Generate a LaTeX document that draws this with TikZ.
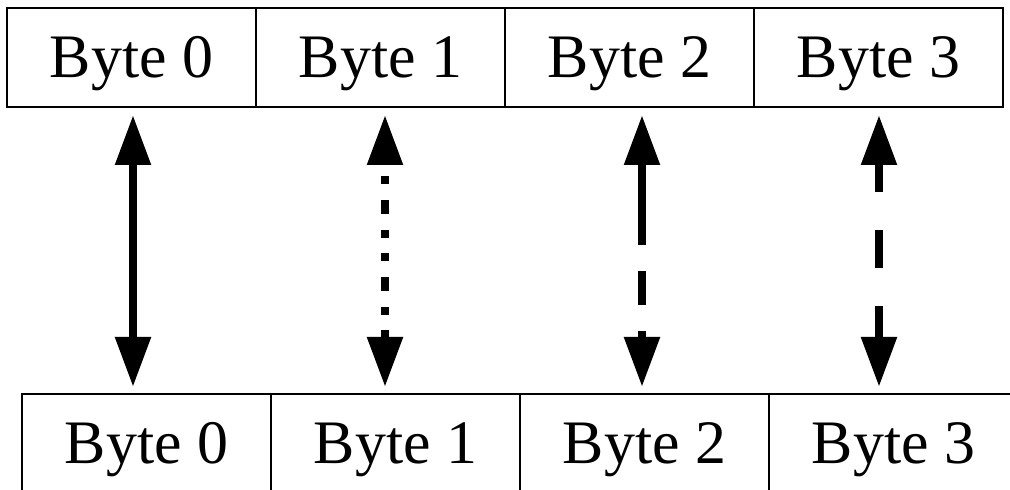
\documentclass[tikz,border=0pt]{standalone}
\usepackage{fontspec}
\setmainfont{Liberation Serif}
\usetikzlibrary{positioning,arrows.meta}

\tikzset{
  bytebox/.style={draw, line width=1.2pt, minimum width=6.225cm, minimum height=2.475cm,
    inner sep=0pt, outer sep=0pt, text height=29pt, text depth=0pt,
    font=\fontsize{44}{50}\selectfont},
  swap/.style={line width=6pt,
    {Triangle[width=0.85cm,length=1.25cm]}-{Triangle[width=0.85cm,length=1.25cm]}}
}

\begin{document}
\begin{tikzpicture}
  \useasboundingbox (0,0) rectangle (25.25,12.25);

  % upper word
  \node[bytebox] (t0) at (3.2875,10.8125) {Byte 0};
  \node[bytebox, right=0pt of t0] (t1) {Byte 1};
  \node[bytebox, right=0pt of t1] (t2) {Byte 2};
  \node[bytebox, right=0pt of t2] (t3) {Byte 3};

  % lower word
  \node[bytebox] (b0) at (3.6625,1.1625) {Byte 0};
  \node[bytebox, right=0pt of b0] (b1) {Byte 1};
  \node[bytebox, right=0pt of b1] (b2) {Byte 2};
  \node[bytebox, right=0pt of b2] (b3) {Byte 3};

  % arrow ends
  \coordinate (u0) at (3.325,9.375);  \coordinate (d0) at (3.325,2.575);
  \coordinate (u1) at (9.625,9.375);  \coordinate (d1) at (9.625,2.575);
  \coordinate (u2) at (16.05,9.375);  \coordinate (d2) at (16.05,2.575);
  \coordinate (u3) at (21.975,9.375); \coordinate (d3) at (21.975,2.575);

  \draw[swap] (u0) -- (d0);
  \draw[swap, dash pattern=on 0.2cm off 0.4cm on 0.35cm off 0.4cm on 0.2cm off 0.375cm,
    dash phase=1.6cm] (u1) -- (d1);
  \draw[swap, dash pattern=on 2.05cm off 0.65cm on 0.85cm off 0.65cm] (u2) -- (d2);
  \draw[swap, dash pattern=on 0.95cm off 0.95cm, dash phase=0.225cm] (u3) -- (d3);
\end{tikzpicture}
\end{document}
